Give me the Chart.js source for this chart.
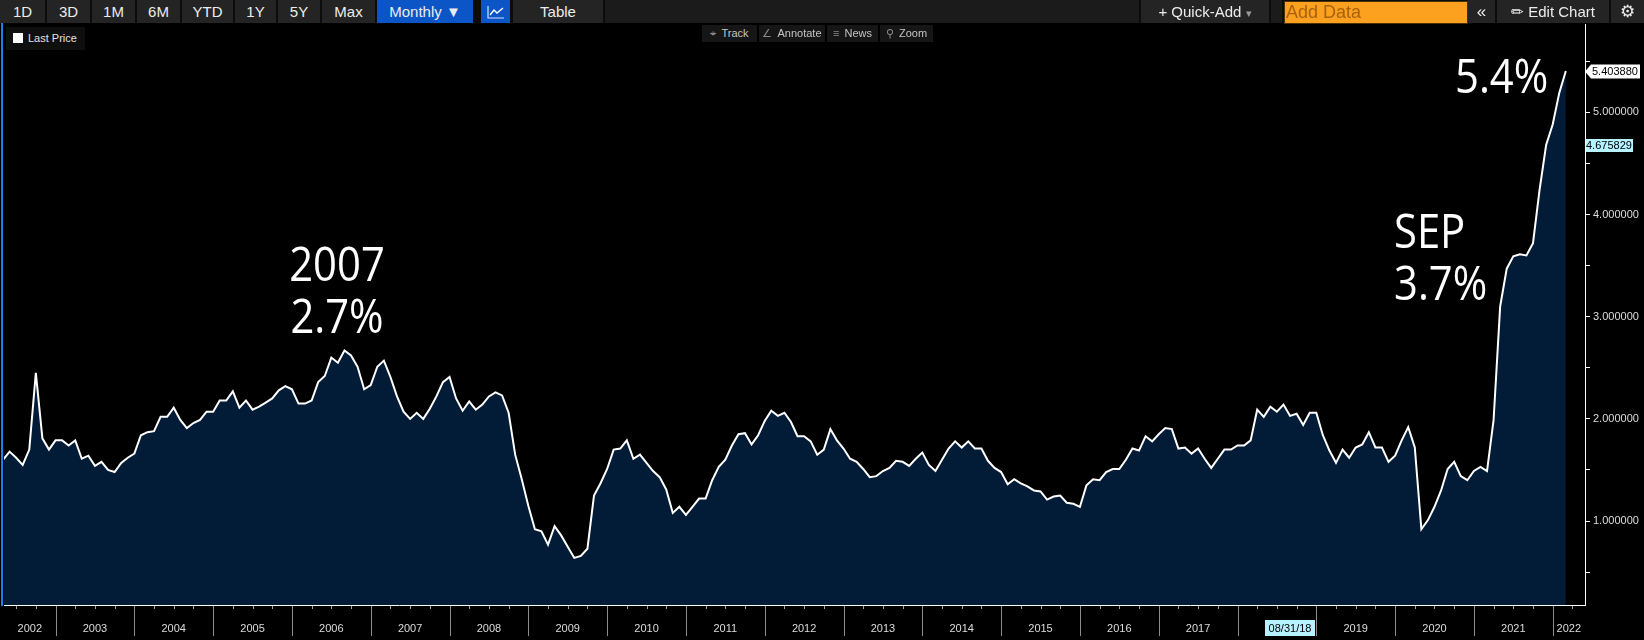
<!DOCTYPE html>
<html>
<head>
<meta charset="utf-8">
<title>Last Price - Monthly</title>
<script src="https://cdn.jsdelivr.net/npm/chart.js@4.4.1/dist/chart.umd.min.js"></script>
<style>
  html, body { margin: 0; padding: 0; background: #000; }
  #page { position: relative; width: 1644px; height: 640px; overflow: hidden; background: #000;
          font-family: "Liberation Sans", Arial, sans-serif; }
  #wrap { position: absolute; left: 0; top: 0; width: 1644px; height: 640px; }
  .bar { position: absolute; left: 0; top: 0; width: 1644px; height: 23px; background: #0c0c0c; }
  .btn { position: absolute; top: 0; height: 23px; line-height: 23px; background: #242424; color: #ececec;
         font-size: 15px; text-align: center; white-space: nowrap; }
  .blue { background: #0b55c6; }
  .tool { position: absolute; top: 25px; height: 17px; line-height: 17px; background: #161616; color: #c4c4c4;
          font-size: 11px; text-align: center; white-space: nowrap; }
  .tool i { font-style: normal; color: #8a8a8a; margin-right: 5px; }
  #legend { position: absolute; left: 6px; top: 27px; width: 79px; height: 23px; line-height: 23px;
            background: #0f0f0f; color: #e2e2e2; font-size: 11px; }
  #legend span { display: inline-block; width: 10px; height: 10px; background: #fff; margin: 0 5px 0 7px;
                 vertical-align: -1px; }
  #edge { position: absolute; left: 1px; top: 23px; width: 2px; height: 583px; background: #1f7fe6; }
</style>
</head>
<body>
<div id="page">
  <div id="wrap"><canvas id="chart"></canvas></div>

  <!-- terminal toolbar -->
  <div class="bar"></div>
  <div class="btn" style="left:0;width:45px">1D</div>
  <div class="btn" style="left:47px;width:43px">3D</div>
  <div class="btn" style="left:92px;width:43px">1M</div>
  <div class="btn" style="left:137px;width:43px">6M</div>
  <div class="btn" style="left:182px;width:51px">YTD</div>
  <div class="btn" style="left:235px;width:41px">1Y</div>
  <div class="btn" style="left:278px;width:42px">5Y</div>
  <div class="btn" style="left:322px;width:53px">Max</div>
  <div class="btn blue" style="left:377px;width:96px">Monthly &#9660;</div>
  <div class="btn blue" style="left:481px;width:29px">
    <svg width="18" height="14" viewBox="0 0 18 14" style="vertical-align:-2px">
      <polyline points="1,1 1,13 17,13" fill="none" stroke="#cfe0ff" stroke-width="1.2"/>
      <polyline points="3,10 7,5 10,8 16,3" fill="none" stroke="#ffffff" stroke-width="1.4"/>
    </svg>
  </div>
  <div class="btn" style="left:513px;width:90px">Table</div>
  <div class="btn" style="left:605px;width:534px;background:#1b1b1b"></div>
  <div class="btn" style="left:1141px;width:128px">+ Quick-Add <span style="color:#9a9a9a;font-size:11px">&#9662;</span></div>
  <div class="btn" style="left:1271px;width:11px;background:#1b1b1b"></div>
  <div class="btn" style="left:1284px;width:181px;height:21px;line-height:21px;top:1px;background:#fca11f;border:1px solid #4a3208;color:#a8620c;font-size:18px;text-align:left;padding-left:1px">Add Data</div>
  <div class="btn" style="left:1468px;width:27px;font-size:17px">&#171;</div>
  <div class="btn" style="left:1497px;width:112px">&#9999; Edit Chart</div>
  <div class="btn" style="left:1611px;width:33px;font-size:17px">&#9881;</div>

  <div class="tool" style="left:702px;width:55px"><i>&#8982;</i>Track</div>
  <div class="tool" style="left:759px;width:66px"><i>&#8736;</i>Annotate</div>
  <div class="tool" style="left:827px;width:51px"><i>&#8801;</i>News</div>
  <div class="tool" style="left:880px;width:53px"><i>&#9906;</i>Zoom</div>

  <div id="legend"><span></span>Last Price</div>
  <div id="edge"></div>
</div>

<script>
// monthly prints, first one at the end of April 2002
var startYear = 2002;
var startMonth = 4;

// values, one per month (Apr 2002 .. Feb 2022)
var lastPrice = [
  1.60, 1.68, 1.62, 1.55, 1.70, 2.45, 1.81, 1.70, 1.79, 1.79,
  1.74, 1.79, 1.61, 1.64, 1.54, 1.58, 1.50, 1.48, 1.57, 1.62,
  1.66, 1.84, 1.87, 1.88, 2.02, 2.02, 2.11, 1.99, 1.91, 1.96,
  1.99, 2.07, 2.07, 2.18, 2.18, 2.27, 2.11, 2.18, 2.09, 2.12,
  2.16, 2.20, 2.28, 2.32, 2.29, 2.15, 2.15, 2.18, 2.36, 2.42,
  2.60, 2.55, 2.67, 2.62, 2.51, 2.29, 2.33, 2.51, 2.57, 2.41,
  2.22, 2.07, 2.00, 2.06, 2.00, 2.10, 2.22, 2.36, 2.41, 2.20,
  2.08, 2.17, 2.09, 2.14, 2.22, 2.26, 2.23, 2.06, 1.65, 1.41,
  1.15, 0.92, 0.90, 0.77, 0.95, 0.86, 0.75, 0.64, 0.66, 0.73,
  1.25, 1.37, 1.51, 1.70, 1.71, 1.79, 1.61, 1.65, 1.57, 1.49,
  1.43, 1.31, 1.08, 1.14, 1.06, 1.14, 1.22, 1.22, 1.40, 1.53,
  1.60, 1.74, 1.85, 1.86, 1.75, 1.84, 1.98, 2.08, 2.03, 2.06,
  1.97, 1.83, 1.83, 1.78, 1.65, 1.70, 1.90, 1.79, 1.71, 1.61,
  1.58, 1.51, 1.43, 1.44, 1.49, 1.52, 1.59, 1.58, 1.54, 1.61,
  1.67, 1.55, 1.49, 1.60, 1.71, 1.78, 1.72, 1.78, 1.71, 1.71,
  1.59, 1.52, 1.48, 1.36, 1.41, 1.37, 1.34, 1.30, 1.29, 1.21,
  1.24, 1.25, 1.18, 1.17, 1.14, 1.35, 1.41, 1.40, 1.48, 1.51,
  1.51, 1.60, 1.71, 1.69, 1.83, 1.78, 1.85, 1.91, 1.90, 1.71,
  1.72, 1.66, 1.71, 1.61, 1.52, 1.61, 1.70, 1.70, 1.74, 1.74,
  1.79, 2.09, 2.02, 2.12, 2.07, 2.14, 2.03, 2.05, 1.94, 2.06,
  2.06, 1.84, 1.69, 1.57, 1.70, 1.62, 1.72, 1.75, 1.87, 1.72,
  1.72, 1.58, 1.64, 1.79, 1.92, 1.72, 0.92, 1.01, 1.14, 1.30,
  1.51, 1.58, 1.44, 1.40, 1.49, 1.53, 1.49, 1.99, 3.10, 3.47,
  3.59, 3.61, 3.60, 3.72, 4.24, 4.68, 4.88, 5.19, 5.403880
];

var yearLabels = [2002, 2003, 2004, 2005, 2006, 2007, 2008, 2009, 2010, 2011, 2012,
                  2013, 2014, 2015, 2016, 2017, 2018, 2019, 2020, 2021, 2022];
var yTickValues = [0.5, 1, 1.5, 2, 2.5, 3, 3.5, 4, 4.5, 5, 5.5];

// crosshair date shown on the time axis, and the tracked value on the price axis
var crossLabel = '08/31/18';
var crossYear = 2018;
var crossMonth = 8;
var trackValue = 4.675829;

// big white notes written on the chart
var notes = [
  { lines: ['2007', '2.7%'], x: 337, y: 281, align: 'center' },
  { lines: ['SEP', '3.7%'], x: 1394, y: 248, align: 'left' },
  { lines: ['5.4%'], x: 1455, y: 93, align: 'left' }
];

var xMin = 2002.346, xMax = 2022.41;
var yMin = 0.179, yMax = 5.864;

var points = [];
for (var i = 0; i < lastPrice.length; i++) {
  points.push({ x: startYear + (startMonth + i) / 12, y: lastPrice[i] });
}

// middle of the visible part of every year, where its label goes
var yearMids = [];
for (var k = 0; k < yearLabels.length; k++) {
  var lo = Math.max(yearLabels[k], xMin);
  var hi = Math.min(yearLabels[k] + 1, xMax);
  yearMids.push((lo + hi) / 2);
}

var tickFont = { family: '"Liberation Sans", Arial, sans-serif', size: 11 };

// year separators, quarter marks, date box, price boxes and the notes
var extras = {
  id: 'extras',
  afterDraw: function (chart) {
    var ctx = chart.ctx;
    var xs = chart.scales.x, ys = chart.scales.y;
    ctx.save();
    ctx.lineWidth = 1;
    for (var yr = yearLabels[0]; yr <= yearLabels[yearLabels.length - 1]; yr++) {
      for (var q = 0; q < 4; q++) {
        var v = yr + q / 4;
        if (v <= xs.min || v >= xs.max) continue;
        var px = Math.round(xs.getPixelForValue(v)) + 0.5;
        ctx.strokeStyle = q === 0 ? '#8c8c8c' : '#a0a0a0';
        ctx.beginPath();
        ctx.moveTo(px, xs.top + 1);
        ctx.lineTo(px, q === 0 ? xs.top + 31 : xs.top + 4);
        ctx.stroke();
      }
    }

    // crosshair date label
    var cx = xs.getPixelForValue(crossYear + crossMonth / 12);
    ctx.fillStyle = '#b6f2ff';
    ctx.fillRect(Math.round(cx - 25), xs.top + 15, 50, 16);
    ctx.fillStyle = '#000';
    ctx.font = '11px "Liberation Sans", Arial, sans-serif';
    ctx.textAlign = 'center';
    ctx.textBaseline = 'middle';
    ctx.fillText(crossLabel, cx, xs.top + 23.5);

    // last price box with its arrow
    var last = lastPrice[lastPrice.length - 1];
    var ly = Math.round(ys.getPixelForValue(last)) + 0.5;
    var ax = ys.left;
    ctx.beginPath();
    ctx.moveTo(ax, ly);
    ctx.lineTo(ax + 6, ly - 7);
    ctx.lineTo(ax + 55, ly - 7);
    ctx.lineTo(ax + 55, ly + 7);
    ctx.lineTo(ax + 6, ly + 7);
    ctx.closePath();
    ctx.fillStyle = '#fff';
    ctx.fill();
    ctx.fillStyle = '#000';
    ctx.textAlign = 'left';
    ctx.fillText(last.toFixed(6), ax + 7, ly + 0.5);

    // tracked value box
    var ty = Math.round(ys.getPixelForValue(trackValue));
    ctx.fillStyle = '#b6f2ff';
    ctx.fillRect(ax + 1, ty - 6, 47, 13);
    ctx.fillStyle = '#000';
    ctx.fillText(trackValue.toFixed(6), ax + 1, ty + 0.5);

    // notes
    ctx.fillStyle = '#fff';
    ctx.font = '400 48px "Open Sans", "Noto Sans", sans-serif';
    ctx.textBaseline = 'alphabetic';
    notes.forEach(function (n) {
      n.lines.forEach(function (t, j) {
        ctx.save();
        ctx.translate(n.x, n.y + j * 52);
        ctx.scale(0.87, 1);
        ctx.textAlign = n.align;
        ctx.fillText(t, 0, 0);
        ctx.restore();
      });
    });
    ctx.restore();
  }
};

var chart = new Chart(document.getElementById('chart'), {
  type: 'line',
  data: {
    datasets: [{
      label: 'Last Price',
      data: points,
      borderColor: '#ffffff',
      borderWidth: 2,
      backgroundColor: '#021b37',
      fill: 'start',
      pointRadius: 0,
      tension: 0
    }]
  },
  options: {
    responsive: true,
    maintainAspectRatio: false,
    animation: false,
    events: [],
    layout: { padding: { top: 24, left: 4, right: 0, bottom: 0 } },
    plugins: { legend: { display: false }, tooltip: { enabled: false } },
    scales: {
      x: {
        type: 'linear',
        position: 'bottom',
        min: xMin,
        max: xMax,
        afterBuildTicks: function (scale) {
          scale.ticks = yearMids.map(function (v) { return { value: v }; });
        },
        afterFit: function (scale) { scale.height = 35; },
        grid: { drawOnChartArea: false, color: 'rgba(0,0,0,0)', tickLength: 14 },
        border: { display: true, color: '#ffffff', width: 1 },
        ticks: {
          autoSkip: false,
          maxRotation: 0,
          padding: 3,
          color: '#dcdcdc',
          font: tickFont,
          callback: function (value, index) {
            return yearLabels[index] === crossYear ? '' : String(yearLabels[index]);
          }
        }
      },
      y: {
        type: 'linear',
        position: 'right',
        min: yMin,
        max: yMax,
        afterBuildTicks: function (scale) {
          scale.ticks = yTickValues.map(function (v) { return { value: v }; });
        },
        afterFit: function (scale) { scale.width = 59; },
        grid: { drawOnChartArea: false, color: '#ffffff', tickLength: 5 },
        border: { display: true, color: '#ffffff', width: 1 },
        ticks: {
          autoSkip: false,
          padding: 3,
          color: '#dcdcdc',
          font: tickFont,
          callback: function (value) {
            return value % 1 === 0 ? value.toFixed(6) : '';
          }
        }
      }
    }
  },
  plugins: [extras]
});
</script>
</body>
</html>
